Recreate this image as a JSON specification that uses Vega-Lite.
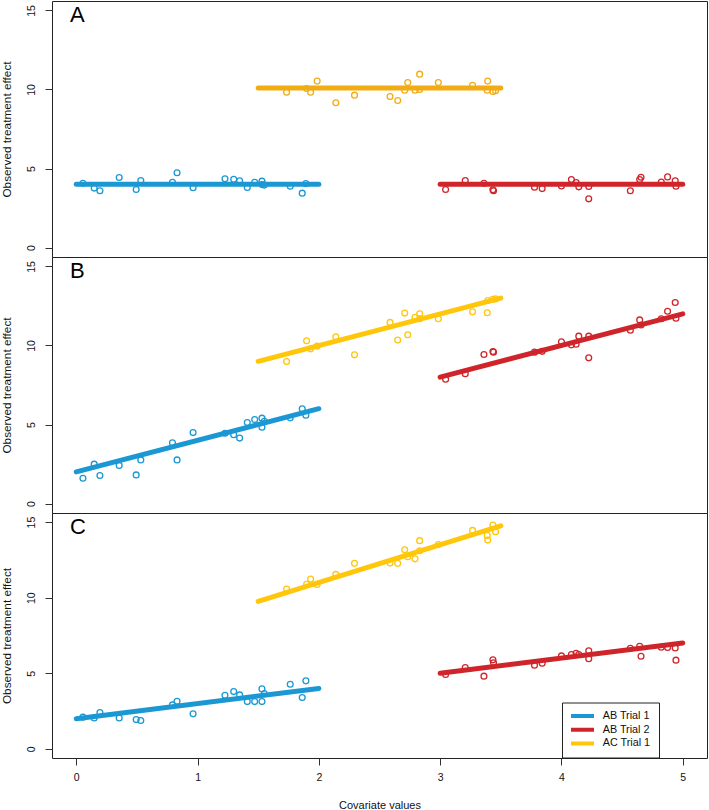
{
  "$schema": "https://vega.github.io/schema/vega-lite/v6.json",
  "padding": {"left": 0, "top": 0, "right": 0, "bottom": 0},
  "spacing": 0,
  "bounds": "flush",
  "background": "white",
  "config": {
    "font": "Liberation Sans",
    "view": {"stroke": "#222222", "strokeWidth": 1},
    "axis": {
      "domain": false, "grid": false, "tickSize": 7, "tickColor": "#333333", "tickWidth": 1,
      "labelFontSize": 10.5, "labelColor": "#111111", "titleFontWeight": "normal", "titleColor": "#111111"
    },
    "title": {"fontSize": 22, "fontWeight": "normal", "color": "#000000", "anchor": "start", "orient": "top", "frame": "group", "offset": -25.5, "baseline": "alphabetic", "dx": 18},
    "legend": {
      "symbolType": "M-1.286,0H5.286", "symbolSize": 49, "symbolStrokeWidth": 4, "labelFontSize": 10.8,
      "labelColor": "#111111", "labelOffset": 21.7, "rowPadding": 1.7, "padding": 8, "clipHeight": 11,
      "strokeColor": "#222222", "fillColor": "white", "cornerRadius": 0
    }
  },
  "datasets": {
    "points": [
      {"panel": "A", "trial": "AB Trial 1", "x": 0.055, "y": 4.07},
      {"panel": "A", "trial": "AB Trial 1", "x": 0.148, "y": 3.76},
      {"panel": "A", "trial": "AB Trial 1", "x": 0.195, "y": 3.59},
      {"panel": "A", "trial": "AB Trial 1", "x": 0.354, "y": 4.43},
      {"panel": "A", "trial": "AB Trial 1", "x": 0.494, "y": 3.67},
      {"panel": "A", "trial": "AB Trial 1", "x": 0.532, "y": 4.24},
      {"panel": "A", "trial": "AB Trial 1", "x": 0.793, "y": 4.13},
      {"panel": "A", "trial": "AB Trial 1", "x": 0.831, "y": 4.73},
      {"panel": "A", "trial": "AB Trial 1", "x": 0.963, "y": 3.78},
      {"panel": "A", "trial": "AB Trial 1", "x": 1.226, "y": 4.35},
      {"panel": "A", "trial": "AB Trial 1", "x": 1.298, "y": 4.32},
      {"panel": "A", "trial": "AB Trial 1", "x": 1.347, "y": 4.22},
      {"panel": "A", "trial": "AB Trial 1", "x": 1.41, "y": 3.8},
      {"panel": "A", "trial": "AB Trial 1", "x": 1.471, "y": 4.13},
      {"panel": "A", "trial": "AB Trial 1", "x": 1.531, "y": 4.2},
      {"panel": "A", "trial": "AB Trial 1", "x": 1.531, "y": 3.98},
      {"panel": "A", "trial": "AB Trial 1", "x": 1.55, "y": 3.95},
      {"panel": "A", "trial": "AB Trial 1", "x": 1.764, "y": 3.88},
      {"panel": "A", "trial": "AB Trial 1", "x": 1.863, "y": 3.44},
      {"panel": "A", "trial": "AB Trial 1", "x": 1.893, "y": 4.05},
      {"panel": "B", "trial": "AB Trial 1", "x": 0.055, "y": 1.6},
      {"panel": "B", "trial": "AB Trial 1", "x": 0.148, "y": 2.49},
      {"panel": "B", "trial": "AB Trial 1", "x": 0.195, "y": 1.77},
      {"panel": "B", "trial": "AB Trial 1", "x": 0.354, "y": 2.41},
      {"panel": "B", "trial": "AB Trial 1", "x": 0.494, "y": 1.81},
      {"panel": "B", "trial": "AB Trial 1", "x": 0.532, "y": 2.76},
      {"panel": "B", "trial": "AB Trial 1", "x": 0.793, "y": 3.84},
      {"panel": "B", "trial": "AB Trial 1", "x": 0.831, "y": 2.76},
      {"panel": "B", "trial": "AB Trial 1", "x": 0.963, "y": 4.49},
      {"panel": "B", "trial": "AB Trial 1", "x": 1.226, "y": 4.45},
      {"panel": "B", "trial": "AB Trial 1", "x": 1.298, "y": 4.35},
      {"panel": "B", "trial": "AB Trial 1", "x": 1.347, "y": 4.14},
      {"panel": "B", "trial": "AB Trial 1", "x": 1.41, "y": 5.13},
      {"panel": "B", "trial": "AB Trial 1", "x": 1.471, "y": 5.32},
      {"panel": "B", "trial": "AB Trial 1", "x": 1.531, "y": 5.4},
      {"panel": "B", "trial": "AB Trial 1", "x": 1.531, "y": 4.83},
      {"panel": "B", "trial": "AB Trial 1", "x": 1.55, "y": 5.2},
      {"panel": "B", "trial": "AB Trial 1", "x": 1.764, "y": 5.42},
      {"panel": "B", "trial": "AB Trial 1", "x": 1.863, "y": 5.99},
      {"panel": "B", "trial": "AB Trial 1", "x": 1.893, "y": 5.59},
      {"panel": "C", "trial": "AB Trial 1", "x": 0.055, "y": 2.1},
      {"panel": "C", "trial": "AB Trial 1", "x": 0.148, "y": 2.05},
      {"panel": "C", "trial": "AB Trial 1", "x": 0.195, "y": 2.4},
      {"panel": "C", "trial": "AB Trial 1", "x": 0.354, "y": 2.05},
      {"panel": "C", "trial": "AB Trial 1", "x": 0.494, "y": 1.94},
      {"panel": "C", "trial": "AB Trial 1", "x": 0.532, "y": 1.88},
      {"panel": "C", "trial": "AB Trial 1", "x": 0.793, "y": 2.91},
      {"panel": "C", "trial": "AB Trial 1", "x": 0.831, "y": 3.15},
      {"panel": "C", "trial": "AB Trial 1", "x": 0.963, "y": 2.32},
      {"panel": "C", "trial": "AB Trial 1", "x": 1.226, "y": 3.55},
      {"panel": "C", "trial": "AB Trial 1", "x": 1.298, "y": 3.79},
      {"panel": "C", "trial": "AB Trial 1", "x": 1.347, "y": 3.57},
      {"panel": "C", "trial": "AB Trial 1", "x": 1.41, "y": 3.13},
      {"panel": "C", "trial": "AB Trial 1", "x": 1.471, "y": 3.13},
      {"panel": "C", "trial": "AB Trial 1", "x": 1.531, "y": 3.97},
      {"panel": "C", "trial": "AB Trial 1", "x": 1.531, "y": 3.13},
      {"panel": "C", "trial": "AB Trial 1", "x": 1.55, "y": 3.66},
      {"panel": "C", "trial": "AB Trial 1", "x": 1.764, "y": 4.28},
      {"panel": "C", "trial": "AB Trial 1", "x": 1.863, "y": 3.4},
      {"panel": "C", "trial": "AB Trial 1", "x": 1.893, "y": 4.5},
      {"panel": "A", "trial": "AC Trial 1", "x": 1.734, "y": 9.83},
      {"panel": "A", "trial": "AC Trial 1", "x": 1.899, "y": 10.06},
      {"panel": "A", "trial": "AC Trial 1", "x": 1.932, "y": 9.83},
      {"panel": "A", "trial": "AC Trial 1", "x": 1.986, "y": 10.53},
      {"panel": "A", "trial": "AC Trial 1", "x": 2.14, "y": 9.16},
      {"panel": "A", "trial": "AC Trial 1", "x": 2.294, "y": 9.64},
      {"panel": "A", "trial": "AC Trial 1", "x": 2.587, "y": 9.56},
      {"panel": "A", "trial": "AC Trial 1", "x": 2.65, "y": 9.3},
      {"panel": "A", "trial": "AC Trial 1", "x": 2.708, "y": 9.96},
      {"panel": "A", "trial": "AC Trial 1", "x": 2.733, "y": 10.44},
      {"panel": "A", "trial": "AC Trial 1", "x": 2.793, "y": 9.96},
      {"panel": "A", "trial": "AC Trial 1", "x": 2.831, "y": 10.97},
      {"panel": "A", "trial": "AC Trial 1", "x": 2.831, "y": 10.0},
      {"panel": "A", "trial": "AC Trial 1", "x": 2.985, "y": 10.44},
      {"panel": "A", "trial": "AC Trial 1", "x": 3.267, "y": 10.27},
      {"panel": "A", "trial": "AC Trial 1", "x": 3.388, "y": 9.96},
      {"panel": "A", "trial": "AC Trial 1", "x": 3.392, "y": 10.53},
      {"panel": "A", "trial": "AC Trial 1", "x": 3.435, "y": 9.87},
      {"panel": "A", "trial": "AC Trial 1", "x": 3.457, "y": 9.92},
      {"panel": "B", "trial": "AC Trial 1", "x": 1.734, "y": 8.99},
      {"panel": "B", "trial": "AC Trial 1", "x": 1.899, "y": 10.3},
      {"panel": "B", "trial": "AC Trial 1", "x": 1.932, "y": 9.79},
      {"panel": "B", "trial": "AC Trial 1", "x": 1.986, "y": 9.96},
      {"panel": "B", "trial": "AC Trial 1", "x": 2.14, "y": 10.55},
      {"panel": "B", "trial": "AC Trial 1", "x": 2.294, "y": 9.41},
      {"panel": "B", "trial": "AC Trial 1", "x": 2.587, "y": 11.46},
      {"panel": "B", "trial": "AC Trial 1", "x": 2.65, "y": 10.34},
      {"panel": "B", "trial": "AC Trial 1", "x": 2.708, "y": 12.05},
      {"panel": "B", "trial": "AC Trial 1", "x": 2.733, "y": 10.68},
      {"panel": "B", "trial": "AC Trial 1", "x": 2.793, "y": 11.79},
      {"panel": "B", "trial": "AC Trial 1", "x": 2.831, "y": 12.0},
      {"panel": "B", "trial": "AC Trial 1", "x": 2.831, "y": 11.7},
      {"panel": "B", "trial": "AC Trial 1", "x": 2.985, "y": 11.69},
      {"panel": "B", "trial": "AC Trial 1", "x": 3.267, "y": 12.13},
      {"panel": "B", "trial": "AC Trial 1", "x": 3.388, "y": 12.07},
      {"panel": "B", "trial": "AC Trial 1", "x": 3.392, "y": 12.85},
      {"panel": "B", "trial": "AC Trial 1", "x": 3.435, "y": 12.93},
      {"panel": "B", "trial": "AC Trial 1", "x": 3.457, "y": 12.95},
      {"panel": "C", "trial": "AC Trial 1", "x": 1.734, "y": 10.57},
      {"panel": "C", "trial": "AC Trial 1", "x": 1.899, "y": 10.88},
      {"panel": "C", "trial": "AC Trial 1", "x": 1.932, "y": 11.23},
      {"panel": "C", "trial": "AC Trial 1", "x": 1.986, "y": 10.88},
      {"panel": "C", "trial": "AC Trial 1", "x": 2.14, "y": 11.54},
      {"panel": "C", "trial": "AC Trial 1", "x": 2.294, "y": 12.27},
      {"panel": "C", "trial": "AC Trial 1", "x": 2.587, "y": 12.29},
      {"panel": "C", "trial": "AC Trial 1", "x": 2.65, "y": 12.27},
      {"panel": "C", "trial": "AC Trial 1", "x": 2.708, "y": 13.17},
      {"panel": "C", "trial": "AC Trial 1", "x": 2.733, "y": 12.71},
      {"panel": "C", "trial": "AC Trial 1", "x": 2.793, "y": 12.57},
      {"panel": "C", "trial": "AC Trial 1", "x": 2.831, "y": 13.77},
      {"panel": "C", "trial": "AC Trial 1", "x": 2.831, "y": 13.1},
      {"panel": "C", "trial": "AC Trial 1", "x": 2.985, "y": 13.52},
      {"panel": "C", "trial": "AC Trial 1", "x": 3.267, "y": 14.45},
      {"panel": "C", "trial": "AC Trial 1", "x": 3.388, "y": 14.12},
      {"panel": "C", "trial": "AC Trial 1", "x": 3.392, "y": 13.81},
      {"panel": "C", "trial": "AC Trial 1", "x": 3.435, "y": 14.8},
      {"panel": "C", "trial": "AC Trial 1", "x": 3.457, "y": 14.36},
      {"panel": "A", "trial": "AB Trial 2", "x": 3.045, "y": 3.67},
      {"panel": "A", "trial": "AB Trial 2", "x": 3.207, "y": 4.24},
      {"panel": "A", "trial": "AB Trial 2", "x": 3.361, "y": 4.07},
      {"panel": "A", "trial": "AB Trial 2", "x": 3.435, "y": 3.65},
      {"panel": "A", "trial": "AB Trial 2", "x": 3.44, "y": 3.59},
      {"panel": "A", "trial": "AB Trial 2", "x": 3.778, "y": 3.82},
      {"panel": "A", "trial": "AB Trial 2", "x": 3.841, "y": 3.73},
      {"panel": "A", "trial": "AB Trial 2", "x": 4.0, "y": 3.9},
      {"panel": "A", "trial": "AB Trial 2", "x": 4.082, "y": 4.3},
      {"panel": "A", "trial": "AB Trial 2", "x": 4.121, "y": 4.11},
      {"panel": "A", "trial": "AB Trial 2", "x": 4.143, "y": 3.84},
      {"panel": "A", "trial": "AB Trial 2", "x": 4.225, "y": 3.86},
      {"panel": "A", "trial": "AB Trial 2", "x": 4.225, "y": 3.08},
      {"panel": "A", "trial": "AB Trial 2", "x": 4.568, "y": 3.59},
      {"panel": "A", "trial": "AB Trial 2", "x": 4.645, "y": 4.3},
      {"panel": "A", "trial": "AB Trial 2", "x": 4.656, "y": 4.45},
      {"panel": "A", "trial": "AB Trial 2", "x": 4.823, "y": 4.14},
      {"panel": "A", "trial": "AB Trial 2", "x": 4.875, "y": 4.47},
      {"panel": "A", "trial": "AB Trial 2", "x": 4.938, "y": 4.22},
      {"panel": "A", "trial": "AB Trial 2", "x": 4.944, "y": 3.88},
      {"panel": "B", "trial": "AB Trial 2", "x": 3.045, "y": 7.87},
      {"panel": "B", "trial": "AB Trial 2", "x": 3.207, "y": 8.21},
      {"panel": "B", "trial": "AB Trial 2", "x": 3.361, "y": 9.43},
      {"panel": "B", "trial": "AB Trial 2", "x": 3.435, "y": 9.62},
      {"panel": "B", "trial": "AB Trial 2", "x": 3.44, "y": 9.58},
      {"panel": "B", "trial": "AB Trial 2", "x": 3.778, "y": 9.58},
      {"panel": "B", "trial": "AB Trial 2", "x": 3.841, "y": 9.63},
      {"panel": "B", "trial": "AB Trial 2", "x": 4.0, "y": 10.23},
      {"panel": "B", "trial": "AB Trial 2", "x": 4.082, "y": 10.04},
      {"panel": "B", "trial": "AB Trial 2", "x": 4.121, "y": 10.08},
      {"panel": "B", "trial": "AB Trial 2", "x": 4.143, "y": 10.59},
      {"panel": "B", "trial": "AB Trial 2", "x": 4.225, "y": 10.59},
      {"panel": "B", "trial": "AB Trial 2", "x": 4.225, "y": 9.22},
      {"panel": "B", "trial": "AB Trial 2", "x": 4.568, "y": 10.97},
      {"panel": "B", "trial": "AB Trial 2", "x": 4.645, "y": 11.62},
      {"panel": "B", "trial": "AB Trial 2", "x": 4.656, "y": 11.3},
      {"panel": "B", "trial": "AB Trial 2", "x": 4.823, "y": 11.69},
      {"panel": "B", "trial": "AB Trial 2", "x": 4.875, "y": 12.17},
      {"panel": "B", "trial": "AB Trial 2", "x": 4.938, "y": 12.72},
      {"panel": "B", "trial": "AB Trial 2", "x": 4.944, "y": 11.73},
      {"panel": "C", "trial": "AB Trial 2", "x": 3.045, "y": 4.92},
      {"panel": "C", "trial": "AB Trial 2", "x": 3.207, "y": 5.38},
      {"panel": "C", "trial": "AB Trial 2", "x": 3.361, "y": 4.81},
      {"panel": "C", "trial": "AB Trial 2", "x": 3.435, "y": 5.89},
      {"panel": "C", "trial": "AB Trial 2", "x": 3.44, "y": 5.69},
      {"panel": "C", "trial": "AB Trial 2", "x": 3.778, "y": 5.54},
      {"panel": "C", "trial": "AB Trial 2", "x": 3.841, "y": 5.67},
      {"panel": "C", "trial": "AB Trial 2", "x": 4.0, "y": 6.15},
      {"panel": "C", "trial": "AB Trial 2", "x": 4.082, "y": 6.24},
      {"panel": "C", "trial": "AB Trial 2", "x": 4.121, "y": 6.33},
      {"panel": "C", "trial": "AB Trial 2", "x": 4.143, "y": 6.24},
      {"panel": "C", "trial": "AB Trial 2", "x": 4.225, "y": 6.49},
      {"panel": "C", "trial": "AB Trial 2", "x": 4.225, "y": 5.96},
      {"panel": "C", "trial": "AB Trial 2", "x": 4.568, "y": 6.66},
      {"panel": "C", "trial": "AB Trial 2", "x": 4.645, "y": 6.79},
      {"panel": "C", "trial": "AB Trial 2", "x": 4.656, "y": 6.13},
      {"panel": "C", "trial": "AB Trial 2", "x": 4.823, "y": 6.73},
      {"panel": "C", "trial": "AB Trial 2", "x": 4.875, "y": 6.71},
      {"panel": "C", "trial": "AB Trial 2", "x": 4.938, "y": 6.68},
      {"panel": "C", "trial": "AB Trial 2", "x": 4.944, "y": 5.87}
    ],
    "lines": [
      {"panel": "A", "trial": "AB Trial 1", "x": 0, "y": 4},
      {"panel": "A", "trial": "AB Trial 1", "x": 2, "y": 4},
      {"panel": "A", "trial": "AB Trial 2", "x": 3, "y": 4},
      {"panel": "A", "trial": "AB Trial 2", "x": 5, "y": 4},
      {"panel": "A", "trial": "AC Trial 1", "x": 1.5, "y": 10.1},
      {"panel": "A", "trial": "AC Trial 1", "x": 3.5, "y": 10.1},
      {"panel": "B", "trial": "AB Trial 1", "x": 0, "y": 2},
      {"panel": "B", "trial": "AB Trial 1", "x": 2, "y": 6},
      {"panel": "B", "trial": "AB Trial 2", "x": 3, "y": 8},
      {"panel": "B", "trial": "AB Trial 2", "x": 5, "y": 12},
      {"panel": "B", "trial": "AC Trial 1", "x": 1.5, "y": 9},
      {"panel": "B", "trial": "AC Trial 1", "x": 3.5, "y": 13},
      {"panel": "C", "trial": "AB Trial 1", "x": 0, "y": 2},
      {"panel": "C", "trial": "AB Trial 1", "x": 2, "y": 4},
      {"panel": "C", "trial": "AB Trial 2", "x": 3, "y": 5},
      {"panel": "C", "trial": "AB Trial 2", "x": 5, "y": 7},
      {"panel": "C", "trial": "AC Trial 1", "x": 1.5, "y": 9.75},
      {"panel": "C", "trial": "AC Trial 1", "x": 3.5, "y": 14.75}
    ]
  },
  "resolve": {"scale": {"color": "independent"}, "legend": {"color": "independent"}},
  "vconcat": [
    {
      "title": {"text": "A"},
      "width": 655, "height": 256,
      "encoding": {
        "x": {"field": "x", "type": "quantitative", "scale": {"domain": [-0.2, 5.2], "nice": false, "zero": false}, "axis": null},
        "y": {"field": "y", "type": "quantitative", "scale": {"domain": [-0.6, 15.6], "nice": false, "zero": false},
              "axis": {"values": [0, 5, 10, 15], "title": "Observed treatment effect", "titleFontSize": 11.8, "labelAngle": 270, "labelAlign": "center", "labelBaseline": "bottom", "labelPadding": 9, "titlePadding": 14}}
      },
      "layer": [
        {"data": {"name": "points"}, "transform": [{"filter": "datum.panel === 'A'"}],
         "mark": {"type": "point", "filled": false, "size": 34, "strokeWidth": 1.3, "opacity": 1},
         "encoding": {"color": {"field": "trial", "type": "nominal", "scale": {"domain": ["AB Trial 1", "AB Trial 2", "AC Trial 1"], "range": ["#1B98D3", "#CF252A", "#F2AC13"]}, "legend": null}}},
        {"data": {"name": "lines"}, "transform": [{"filter": "datum.panel === 'A'"}],
         "mark": {"type": "line", "strokeWidth": 5, "strokeCap": "round"},
         "encoding": {"color": {"field": "trial", "type": "nominal", "scale": {"domain": ["AB Trial 1", "AB Trial 2", "AC Trial 1"], "range": ["#1B98D3", "#CF252A", "#F2AC13"]}, "legend": null}}}
      ]
    },
    {
      "title": {"text": "B"},
      "width": 655, "height": 256,
      "encoding": {
        "x": {"field": "x", "type": "quantitative", "scale": {"domain": [-0.2, 5.2], "nice": false, "zero": false}, "axis": null},
        "y": {"field": "y", "type": "quantitative", "scale": {"domain": [-0.6, 15.6], "nice": false, "zero": false},
              "axis": {"values": [0, 5, 10, 15], "title": "Observed treatment effect", "titleFontSize": 11.8, "labelAngle": 270, "labelAlign": "center", "labelBaseline": "bottom", "labelPadding": 9, "titlePadding": 14}}
      },
      "layer": [
        {"data": {"name": "points"}, "transform": [{"filter": "datum.panel === 'B'"}],
         "mark": {"type": "point", "filled": false, "size": 34, "strokeWidth": 1.3, "opacity": 1},
         "encoding": {"color": {"field": "trial", "type": "nominal", "scale": {"domain": ["AB Trial 1", "AB Trial 2", "AC Trial 1"], "range": ["#1B98D3", "#CF252A", "#FFC60A"]}, "legend": null}}},
        {"data": {"name": "lines"}, "transform": [{"filter": "datum.panel === 'B'"}],
         "mark": {"type": "line", "strokeWidth": 5, "strokeCap": "round"},
         "encoding": {"color": {"field": "trial", "type": "nominal", "scale": {"domain": ["AB Trial 1", "AB Trial 2", "AC Trial 1"], "range": ["#1B98D3", "#CF252A", "#FFC60A"]}, "legend": null}}}
      ]
    },
    {
      "title": {"text": "C"},
      "width": 655, "height": 245,
      "encoding": {
        "x": {"field": "x", "type": "quantitative", "scale": {"domain": [-0.2, 5.2], "nice": false, "zero": false},
              "axis": {"values": [0, 1, 2, 3, 4, 5], "title": "Covariate values", "titleFontSize": 11, "labelPadding": 7.5, "titlePadding": 16}},
        "y": {"field": "y", "type": "quantitative", "scale": {"domain": [-0.6, 15.6], "nice": false, "zero": false},
              "axis": {"values": [0, 5, 10, 15], "title": "Observed treatment effect", "titleFontSize": 11.8, "labelAngle": 270, "labelAlign": "center", "labelBaseline": "bottom", "labelPadding": 9, "titlePadding": 14}}
      },
      "layer": [
        {"data": {"name": "points"}, "transform": [{"filter": "datum.panel === 'C'"}],
         "mark": {"type": "point", "filled": false, "size": 34, "strokeWidth": 1.3, "opacity": 1},
         "encoding": {"color": {"field": "trial", "type": "nominal", "scale": {"domain": ["AB Trial 1", "AB Trial 2", "AC Trial 1"], "range": ["#1B98D3", "#CF252A", "#FFC60A"]},
           "legend": {"title": null, "orient": "none", "legendX": 510, "legendY": 189.5}}}},
        {"data": {"name": "lines"}, "transform": [{"filter": "datum.panel === 'C'"}],
         "mark": {"type": "line", "strokeWidth": 5, "strokeCap": "round"},
         "encoding": {"color": {"field": "trial", "type": "nominal", "scale": {"domain": ["AB Trial 1", "AB Trial 2", "AC Trial 1"], "range": ["#1B98D3", "#CF252A", "#FFC60A"]},
           "legend": {"title": null, "orient": "none", "legendX": 510, "legendY": 189.5}}}}
      ]
    }
  ]
}
